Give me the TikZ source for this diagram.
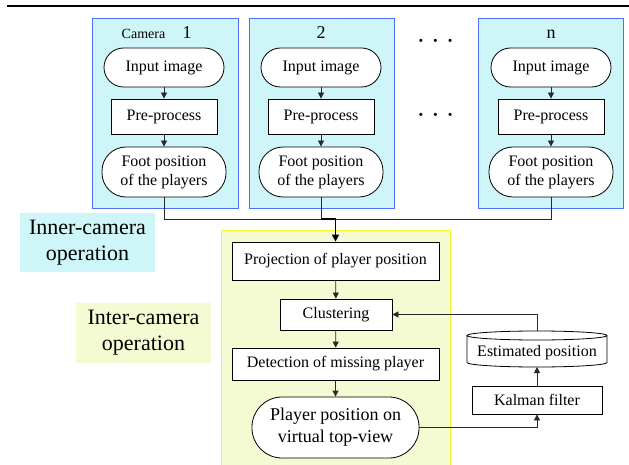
\documentclass[tikz,border=0pt]{standalone}
\usepackage{fontspec}
\setmainfont{Liberation Serif}
\usetikzlibrary{arrows.meta,calc}

\definecolor{camfill}{RGB}{206,245,247}
\definecolor{camedge}{RGB}{80,110,255}
\definecolor{interfill}{RGB}{244,250,210}
\definecolor{interedge}{RGB}{250,245,40}
\definecolor{wire}{RGB}{40,40,40}

\tikzset{
  fs/.style={font=\fontsize{16}{19}\selectfont},
  procbox/.style={draw=black, line width=0.8pt, fill=white, fs, inner sep=0pt, align=center},
  termbox/.style={procbox, rounded corners=#1},
  flow/.style={draw=wire, line width=0.8pt, -{Triangle[length=6pt,width=6pt]}},
  wireline/.style={draw=wire, line width=0.8pt},
  cambox/.style={draw=camedge, line width=0.8pt, fill=camfill},
  labelbox/.style={inner sep=0pt, align=center, font=\fontsize{22}{26}\selectfont},
  ellip/.style={font=\fontsize{26}{26}\selectfont},
}

\begin{document}
\begin{tikzpicture}[x=1pt, y=-1pt]
\useasboundingbox (0,0) rectangle (629,465);

% rule across the top
\draw[line width=1.2pt] (7,6) -- (629,6);

% per-camera panels
\draw[cambox] (92.7,18) rectangle (238,208);
\draw[cambox] (249,18) rectangle (394,208);
\draw[cambox] (478,18) rectangle (623,208);

\node[anchor=base, font=\fontsize{14}{16}\selectfont] (camtxt) at (143.5,39) {Camera};
\node[anchor=base, font=\fontsize{18}{20}\selectfont] (c1) at (187,39) {1};
\node[anchor=base, font=\fontsize{18}{20}\selectfont] (c2) at (321,39) {2};
\node[anchor=base, font=\fontsize{18}{20}\selectfont] (cn) at (551,39) {n};

\foreach \k/\cx in {1/164, 2/321, n/551} {
  \node[termbox=19.5pt, minimum width=120pt, minimum height=39pt] (in\k) at (\cx,67.5) {Input image};
  \node[procbox, minimum width=106pt, minimum height=35pt] (pre\k) at (\cx,116.5) {Pre-process};
  \node[termbox=24pt, minimum width=124pt, minimum height=50pt] (ft\k) at (\cx,172) {Foot position\\of the players};
  \draw[flow] (in\k) -- (pre\k);
  \draw[flow] (pre\k) -- (ft\k);
}

% ellipsis between camera 2 and camera n
\node[ellip] (dotsA) at (435.5,44) {·\hspace{6pt}·\hspace{6pt}·};
\node[ellip] (dotsB) at (435.5,118) {·\hspace{6pt}·\hspace{6pt}·};

% stage captions
\node[labelbox, fill=camfill, minimum width=135pt, minimum height=59pt] (innerlbl) at (87.5,242.5) {Inner-camera\\operation};
\node[labelbox, fill=interfill, minimum width=135pt, minimum height=60pt] (interlbl) at (143.5,333) {Inter-camera\\operation};

% inter-camera panel
\draw[draw=interedge, line width=0.8pt, fill=interfill] (221,230) rectangle (450,470);

\node[procbox, minimum width=207pt, minimum height=38pt] (proj) at (335.5,261) {Projection of player position};
\node[procbox, minimum width=112pt, minimum height=31pt] (clu) at (336,314.5) {Clustering};
\node[procbox, minimum width=207pt, minimum height=32pt] (det) at (335.5,364) {Detection of missing player};
\node[termbox=30pt, minimum width=167pt, minimum height=61pt, font=\fontsize{18}{22}\selectfont] (pp) at (335.5,427.5) {Player position on\\virtual top-view};

% tracking loop: cylinder store and filter
\coordinate (est) at (537,349);
\coordinate (estN) at (537,331);
\coordinate (estS) at (537,367);
\draw[line width=0.8pt, fill=white]
  ([xshift=-70pt,yshift=-4.5pt]estN) -- ([xshift=-70pt,yshift=4.5pt]estS)
  arc[start angle=180, end angle=360, x radius=70pt, y radius=4.5pt]
  -- ([xshift=70pt,yshift=-4.5pt]estN)
  arc[start angle=0, end angle=360, x radius=70pt, y radius=4.5pt];
\node[fs, inner sep=0pt] (esttxt) at (537,353) {Estimated position};
\node[procbox, minimum width=130pt, minimum height=28pt] (kal) at (537,400) {Kalman filter};

% gathering the camera outputs
\coordinate (bus) at (proj.north |- 0,219);
\draw[wireline] (ft1.south) -- (ft1.south |- bus) -- (ftn.south |- bus) -- (ftn.south);
\draw[wireline] (ft2.south) -- (ft2.south |- bus);
\draw[draw=black, line width=1.5pt, -{Triangle[length=7pt,width=7pt]}] (ft2.south |- bus) -- (bus) -- (proj.north);

\draw[flow] (proj) -- (clu);
\draw[flow] (clu) -- (det);
\draw[flow] (det) -- (pp);
\draw[flow] (pp.east) -| (kal.south);
\draw[flow] (kal) -- (estS);
\draw[flow] (estN) |- (clu.east);
\end{tikzpicture}
\end{document}
